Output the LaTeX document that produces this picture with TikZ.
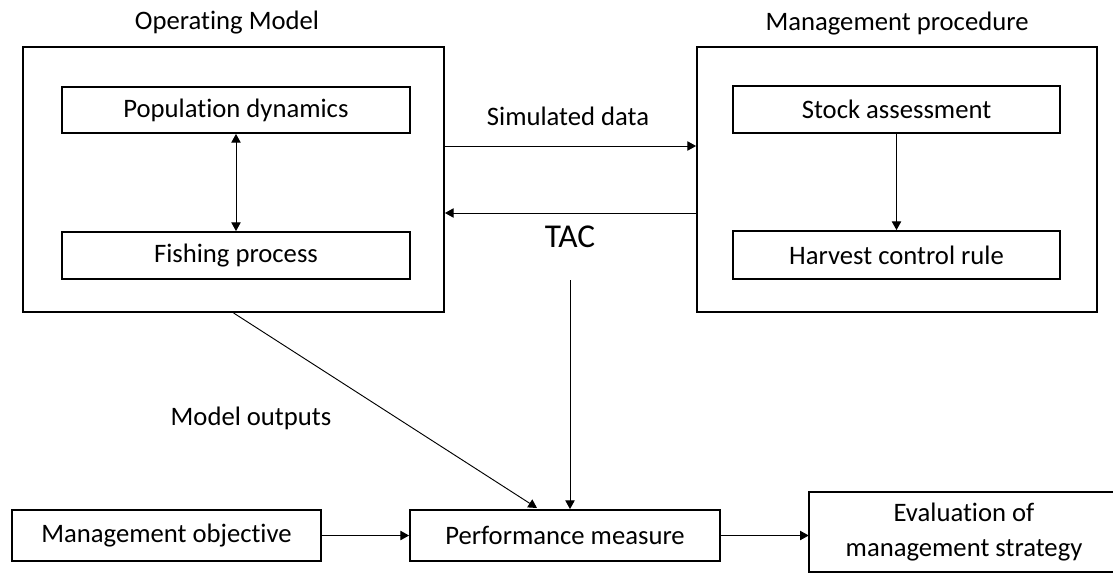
\documentclass[tikz,border=0pt]{standalone}
\usepackage{fontspec}
\setmainfont{Carlito}[Ligatures=NoCommon]
\usetikzlibrary{arrows.meta}

\begin{document}
\begin{tikzpicture}[
  x=0.75pt, y=-0.75pt,
  every node/.style={font=\fontsize{20pt}{26pt}\selectfont, inner sep=0pt},
  outerbox/.style={draw, line width=1.4pt, minimum width=#1},
  innerbox/.style={draw, line width=1.4pt, minimum width=#1},
  edge/.style={line width=1.4pt},
  arr/.style={line width=0.7pt, -{Triangle[length=6.5pt,width=7pt]}},
  darr/.style={line width=0.7pt, {Triangle[length=6.5pt,width=7pt]}-{Triangle[length=6.5pt,width=7pt]}},
  lbl/.style={anchor=base}
]
\useasboundingbox (0,0) rectangle (1113,572);
\clip (0,0) rectangle (1113,572);

% operating model
\node[outerbox=315.75pt, minimum height=198.75pt] (om) at (233.5,179.5) {};
\node[innerbox=261pt, minimum height=34.5pt] (pd) at (236,110) {Population dynamics};
\node[innerbox=261pt, minimum height=35.25pt] (fp) at (236,255.5) {Fishing process};
\node[lbl] (omt) at (227,29) {Operating Model};

% management procedure
\node[outerbox=300pt, minimum height=198.75pt] (mp) at (897,179.5) {};
\node[innerbox=245.25pt, minimum height=35.25pt] (sa) at (896.5,109.5) {Stock assessment};
\node[innerbox=245.25pt, minimum height=36pt] (hcr) at (896.5,255) {Harvest control rule};
\node[lbl] (mpt) at (897,30) {Management procedure};

% bottom row
\node[innerbox=231.75pt, minimum height=38.25pt] (mo) at (166.5,535.5) {Management objective};
\node[innerbox=232.5pt, minimum height=38.25pt] (pm) at (565,535.5) {Performance measure};
% evaluation box: open on the right, it runs off the page
\node[minimum width=244.5pt, minimum height=59.6pt] (ev) at (972,531.75) {};
\draw[edge] (ev.north east) -- (ev.north west) -- (ev.south west) -- (ev.south east);
\node[align=center] (evt) at (964,531.75) {Evaluation of\\management strategy};

% connector anchors
\coordinate (sim) at (570,146);
\coordinate (tac) at (570,213);
\coordinate (tacv) at (570,280);
\coordinate (mout) at (537,508);

% connectors
\draw[darr] (pd.south) -- (fp.north);
\draw[arr] (sa.south) -- (hcr.north);
\draw[arr] (om.east |- sim) -- (mp.west |- sim);
\draw[arr] (mp.west |- tac) -- (om.east |- tac);
\draw[arr] (tacv) -- (tacv |- pm.north);
\draw[arr] (om.south) -- (mout);
\draw[arr] (mo.east) -- (pm.west);
\draw[arr] (pm.east) -- (pm.east -| ev.west);

% labels
\node[lbl] (simt) at (568,125) {Simulated data};
\node[lbl, font=\fontsize{25pt}{30pt}\selectfont] (tact) at (570,247) {TAC};
\node[lbl] (mot) at (251,425) {Model outputs};
\end{tikzpicture}
\end{document}
